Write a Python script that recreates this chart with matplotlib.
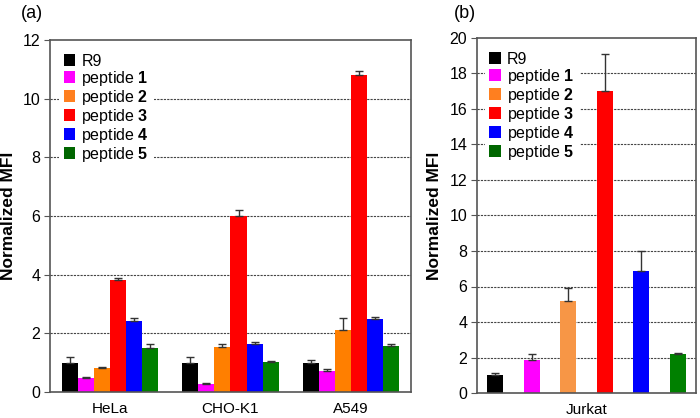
import matplotlib.pyplot as plt
import numpy as np
from matplotlib.patches import Patch

plt.rcParams['font.family'] = ['Liberation Sans', 'DejaVu Sans']
plt.rcParams['mathtext.fontset'] = 'custom'
plt.rcParams['mathtext.bf'] = 'Liberation Sans:bold'
plt.rcParams['mathtext.rm'] = 'Liberation Sans'

# data
cells_a = ['HeLa', 'CHO-K1', 'A549']
series = ['R9', 'peptide $\\mathbf{1}$', 'peptide $\\mathbf{2}$',
          'peptide $\\mathbf{3}$', 'peptide $\\mathbf{4}$', 'peptide $\\mathbf{5}$']
vals_a = [
    [1.00, 1.00, 0.98],   # R9
    [0.49, 0.27, 0.70],   # peptide 1
    [0.81, 1.55, 2.11],   # peptide 2
    [3.81, 6.01, 10.82],  # peptide 3
    [2.43, 1.63, 2.49],   # peptide 4
    [1.50, 1.03, 1.57],   # peptide 5
]
errs_a = [
    [0.21, 0.20, 0.12],
    [0.02, 0.02, 0.10],
    [0.04, 0.07, 0.42],
    [0.08, 0.19, 0.13],
    [0.09, 0.08, 0.07],
    [0.14, 0.02, 0.05],
]
cells_b = ['Jurkat']
vals_b = [1.0, 1.87, 5.18, 16.99, 6.86, 2.18]
errs_b = [0.10, 0.30, 0.75, 2.10, 1.12, 0.08]

colors_a = ['#000000', '#FF00FF', '#FF7F00', '#FF0000', '#0000FF', '#008000']
colors_b = ['#000000', '#FF00FF', '#F79646', '#FF0000', '#0000FF', '#008000']
legend_colors = ['#000000', '#FF00FF', '#FF7F1F', '#FF0000', '#0000FF', '#006600']

spine_col = '#555555'
grid_col = '#444444'

fig = plt.figure(figsize=(7, 4.18), dpi=100)
ax1 = fig.add_axes([50/700, 26/418, 361/700, 352/418])
ax2 = fig.add_axes([477/700, 25/418, 219/700, 355/418])


def style(ax, ymax, step):
    ax.set_ylim(0, ymax)
    ax.set_yticks(np.arange(0, ymax + 0.1, step))
    ax.tick_params(axis='y', labelsize=11.5, length=4, color=spine_col, direction='out', pad=3)
    ax.tick_params(axis='x', length=0, labelsize=11, pad=7)
    for s in ax.spines.values():
        s.set_color(spine_col)
        s.set_linewidth(1.2)
    for t in np.arange(step, ymax, step):
        ax.axhline(t, color=grid_col, lw=0.8, ls=(0, (2, 1)), zorder=0)
    ax.set_ylabel('Normalized MFI', fontsize=12.5, fontweight='bold', labelpad=5)


# panel (a)
x = np.arange(len(cells_a))
w = 0.8 / 6
for i in range(6):
    ax1.bar(x - 0.4 + w * (i + 0.5), vals_a[i], w, color=colors_a[i], zorder=2,
            yerr=[np.zeros(3), errs_a[i]], capsize=3,
            error_kw=dict(ecolor='#333333', elinewidth=1, capthick=1, zorder=3))
ax1.set_xlim(-0.5, 2.5)
ax1.set_xticks(x)
ax1.set_xticklabels(cells_a)
style(ax1, 12, 2)

# panel (b)
xb = np.arange(6)
for i in range(6):
    ax2.bar(xb[i], vals_b[i], 0.44, color=colors_b[i], zorder=2,
            yerr=[[0], [errs_b[i]]], capsize=3,
            error_kw=dict(ecolor='#333333', elinewidth=1, capthick=1, zorder=3))
ax2.set_xlim(-0.5, 5.5)
ax2.set_xticks([2.5])
ax2.set_xticklabels(cells_b)
style(ax2, 20, 2)

handles = [Patch(facecolor=c, edgecolor='none') for c in legend_colors]
for ax, anchor in [(ax1, (0.025, 0.975)), (ax2, (0.035, 0.975))]:
    leg = ax.legend(handles, series, loc='upper left', bbox_to_anchor=anchor,
                    fontsize=11.5, frameon=True, fancybox=False, framealpha=1,
                    facecolor='white', edgecolor='none', borderpad=0.3,
                    handlelength=0.7, handleheight=0.7, handletextpad=0.4,
                    labelspacing=0.0, borderaxespad=0)
    leg.set_zorder(5)

fig.text(21/700, 1 - 14/418, '(a)', fontsize=13, va='center', ha='left')
fig.text(454/700, 1 - 14/418, '(b)', fontsize=13, va='center', ha='left')

fig.savefig('out.png', dpi=100)
